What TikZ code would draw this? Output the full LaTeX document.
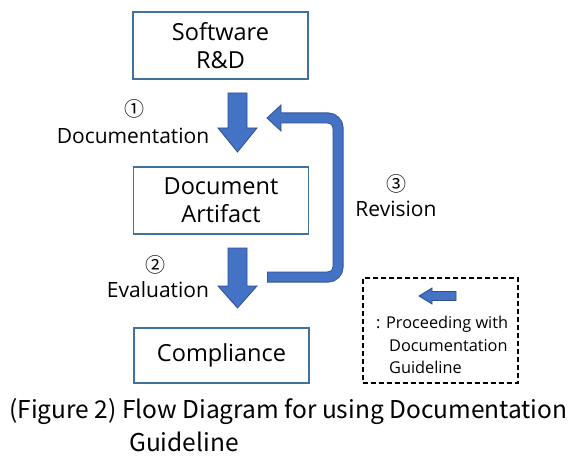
\documentclass[tikz,border=0pt]{standalone}
\usepackage{fontspec}
\setmainfont{Open Sans}
\newfontfamily\capfont{Noto Sans CJK KR}
\definecolor{arrfill}{HTML}{4472C4}
\definecolor{arrline}{HTML}{2F528F}
\definecolor{boxline}{HTML}{41719C}
\begin{document}
\begin{tikzpicture}[x=1pt,y=-1pt,
  box/.style={draw=boxline,line width=1.2pt,minimum width=175pt,minimum height=67pt,align=center,font=\fontsize{23.5}{28}\selectfont,inner sep=0pt},
  lbl/.style={align=center,font=\fontsize{21}{26}\selectfont,inner sep=0pt},
  numl/.style={align=center,font=\capfont\fontsize{20}{24}\selectfont,inner sep=0pt},
  legt/.style={anchor=west,inner sep=0pt,font=\fontsize{16.3}{22}\selectfont,align=left},
  blockarr/.style={fill=arrfill,draw=arrline,line width=0.8pt,line join=miter}]
\useasboundingbox[fill=white] (0,0) rectangle (583,462);
% boxes
\node[box] (sw) at (220.5,45.5) {Software\\R\&D};
\node[box] (da) at (221,200.5) {Document\\Artifact};
\node[box,minimum height=55pt] (co) at (221.5,355.5) {Compliance};
% down arrows
\draw[blockarr] (228,93) -- (247,93) -- (247,128) -- (257,128) -- (237.5,152) -- (218,128) -- (228,128) -- cycle;
\draw[blockarr] (228,248) -- (247,248) -- (247,286) -- (257,286) -- (237.5,308) -- (218,286) -- (228,286) -- cycle;
% feedback arrow
\coordinate (fbstart) at (267,277);
\coordinate (fbc1) at (338,277);
\coordinate (fbc2) at (338,118);
\coordinate (fbend) at (281,118);
\draw[arrline,line width=11pt,line cap=butt,rounded corners=10pt] (fbstart) -- (fbc1) -- (fbc2) -- (fbend);
\draw[arrfill,line width=9.4pt,line cap=butt,rounded corners=10pt] ([xshift=0.8pt]fbstart) -- (fbc1) -- (fbc2) -- ([xshift=-1pt]fbend);
\draw[blockarr] (282,113.5) -- (281,113.5) -- (281,105) -- (267,118) -- (281,131) -- (281,122.5) -- (282,122.5);
\fill[arrfill] (280.6,112.9) rectangle (283,123.1);
% labels
\node[numl] (n1) at (134,109) {①};
\node[lbl] (l1) at (133,136) {Documentation};
\node[numl] (n2) at (155,265) {②};
\node[lbl] (l2) at (158,290) {Evaluation};
\node[numl] (n3) at (396,184) {③};
\node[lbl] (l3) at (396,209) {Revision};
% legend
\node[draw=black,dashed,dash pattern=on 5pt off 3pt,line width=1.1pt,minimum width=155pt,minimum height=105pt,inner sep=0pt] (leg) at (440.5,330.5) {};
\draw[blockarr] (456,291.5) -- (432,291.5) -- (432,288) -- (419,296) -- (432,304) -- (432,300.5) -- (456,300.5) -- cycle;
\node[legt] (lt1) at (376,324) {: Proceeding with};
\node[legt] (lt2) at (389,346) {Documentation};
\node[legt] (lt3) at (389,367) {Guideline};
% caption
\node[anchor=west,inner sep=0pt,font=\capfont\fontsize{24.5}{30}\selectfont] (cap1) at (9,412) {(Figure 2) Flow Diagram for using Documentation};
\node[anchor=west,inner sep=0pt,font=\capfont\fontsize{24.5}{30}\selectfont] (cap2) at (129,442) {Guideline};
\end{tikzpicture}
\end{document}
